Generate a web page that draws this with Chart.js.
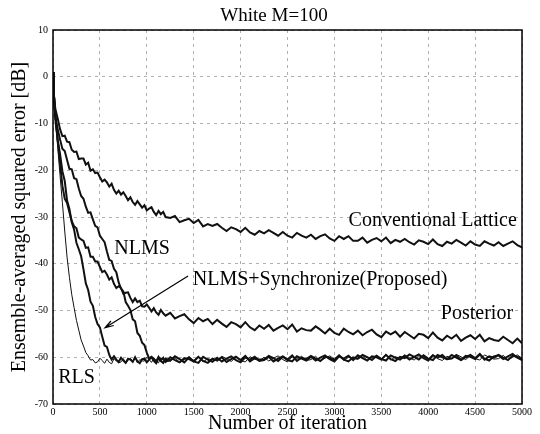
<!DOCTYPE html>
<html lang="en">
<head>
<meta charset="UTF-8">
<script src="https://cdn.jsdelivr.net/npm/chart.js"></script>
<title>White M=100</title>
<style>
  body { margin: 0; background: #fff; }
  #wrap { width: 540px; height: 434px; }
</style>
</head>
<body>
<div id="wrap"><canvas id="grafico"></canvas></div>
<script>
// iteration index (x), dense at the start where the curves fall fast
const iterations = [
  0, 10, 25, 50, 75, 100, 125, 150, 175, 200,
  225, 250, 275, 300, 325, 350, 375, 400, 425, 450,
  475, 500, 525, 550, 575, 600, 625, 650, 675, 700,
  725, 750, 775, 800, 825, 850, 875, 900, 925, 950,
  975, 1000, 1025, 1050, 1075, 1100, 1125, 1150, 1175, 1200,
  1250, 1300, 1350, 1400, 1450, 1500, 1550, 1600, 1650, 1700,
  1750, 1800, 1850, 1900, 1950, 2000, 2050, 2100, 2150, 2200,
  2250, 2300, 2350, 2400, 2450, 2500, 2550, 2600, 2650, 2700,
  2750, 2800, 2850, 2900, 2950, 3000, 3050, 3100, 3150, 3200,
  3250, 3300, 3350, 3400, 3450, 3500, 3550, 3600, 3650, 3700,
  3750, 3800, 3850, 3900, 3950, 4000, 4050, 4100, 4150, 4200,
  4250, 4300, 4350, 4400, 4450, 4500, 4550, 4600, 4650, 4700,
  4750, 4800, 4850, 4900, 4950, 5000
];

// ensemble-averaged squared error in dB
const conventional = [
  1, -4, -6.9, -8.9, -11.2, -12.7, -12.6, -13.9, -14.0, -15.6,
  -16.1, -16.0, -17.6, -17.5, -17.5, -18.8, -18.4, -20.1, -19.8, -20.6,
  -20.5, -21.5, -22.4, -22.0, -22.6, -23.5, -22.9, -24.2, -25.0, -24.4,
  -25.2, -24.7, -25.5, -26.4, -25.8, -26.8, -27.4, -26.6, -27.3, -28.0,
  -27.5, -28.6, -28.2, -27.9, -28.9, -29.6, -28.7, -29.4, -28.9, -30.0,
  -30.2, -29.8, -31.1, -30.7, -30.4, -31.3, -30.6, -32.0, -31.5, -31.9,
  -31.5, -32.3, -33.0, -32.2, -32.6, -33.2, -32.3, -33.3, -33.8, -33.0,
  -33.5, -32.8, -33.4, -34.0, -33.2, -34.0, -34.4, -33.4, -34.0, -34.4,
  -33.8, -34.7, -34.1, -33.7, -34.6, -35.1, -34.1, -34.7, -34.1, -35.1,
  -35.1, -34.4, -35.5, -34.9, -34.5, -35.2, -34.4, -35.6, -34.9, -35.3,
  -34.7, -35.4, -35.9, -35.0, -35.3, -35.8, -34.8, -35.8, -36.2, -35.3,
  -35.7, -34.9, -35.5, -36.1, -35.2, -35.9, -36.2, -35.2, -35.7, -36.1,
  -35.4, -36.2, -35.7, -35.2, -36.0, -36.5
];
const nlms = [
  1, -4, -8.6, -11.2, -13.4, -15.4, -15.9, -17.8, -19.7, -19.8,
  -21.7, -21.9, -23.9, -25.5, -26.1, -27.8, -29.1, -29.0, -30.5, -31.9,
  -32.2, -34.0, -34.7, -35.4, -37.4, -39.2, -39.4, -41.1, -41.8, -44.0,
  -45.3, -45.9, -48.2, -49.0, -49.9, -51.9, -52.3, -54.8, -55.4, -56.9,
  -57.4, -59.0, -60.3, -59.9, -60.3, -60.9, -59.9, -60.8, -61.2, -60.3,
  -60.7, -59.8, -60.4, -61.1, -60.0, -60.9, -61.2, -59.9, -60.5, -61.0,
  -60.1, -60.9, -60.3, -59.8, -60.6, -61.1, -60.0, -60.5, -59.9, -60.8,
  -60.6, -59.9, -60.9, -60.3, -59.8, -60.5, -59.6, -60.8, -60.1, -60.4,
  -59.7, -60.3, -60.8, -59.9, -60.1, -60.6, -59.6, -60.5, -60.9, -60.0,
  -60.3, -59.5, -60.0, -60.6, -59.7, -60.4, -60.7, -59.6, -60.1, -60.5,
  -59.7, -60.5, -59.9, -59.4, -60.2, -60.7, -59.6, -60.1, -59.5, -60.4,
  -60.3, -59.6, -60.6, -60.0, -59.5, -60.2, -59.3, -60.5, -59.8, -60.1,
  -59.5, -60.1, -60.6, -59.7, -59.9, -60.4
];
const posterior = [
  1, -4, -7.9, -13.5, -18.6, -23.3, -26.1, -27.0, -29.0, -30.9,
  -32.0, -32.4, -34.4, -34.8, -35.1, -36.6, -36.5, -38.5, -38.5, -39.5,
  -39.5, -40.7, -41.8, -41.5, -42.3, -43.4, -42.9, -44.3, -45.2, -44.8,
  -45.2, -46.4, -46.2, -46.1, -47.3, -48.2, -47.4, -48.2, -47.9, -49.1,
  -49.2, -48.7, -49.4, -50.2, -49.5, -50.4, -50.9, -49.9, -50.6, -51.1,
  -50.5, -51.7, -51.2, -50.8, -51.9, -52.7, -51.6, -52.3, -51.8, -52.9,
  -52.0, -52.8, -53.5, -52.5, -52.9, -53.6, -52.5, -53.6, -54.2, -53.2,
  -53.9, -53.1, -54.3, -53.7, -53.2, -54.0, -53.0, -54.5, -53.8, -54.2,
  -54.3, -53.4, -54.1, -54.9, -53.9, -54.8, -55.2, -53.9, -54.6, -55.1,
  -54.3, -55.3, -54.6, -54.1, -55.1, -55.7, -54.5, -55.1, -54.5, -55.6,
  -54.6, -55.3, -56.0, -55.0, -55.2, -55.9, -54.7, -55.8, -56.4, -55.4,
  -56.0, -55.2, -56.5, -55.8, -55.3, -56.1, -55.2, -56.6, -55.9, -56.3,
  -56.5, -55.6, -56.3, -57.0, -56.0, -57.0
];
const proposed = [
  1, -4, -9.1, -13.5, -16.5, -20.2, -22.3, -26.5, -28.3, -31.1,
  -32.7, -35.5, -36.9, -38.4, -41.2, -44.2, -45.6, -48.1, -49.0, -51.4,
  -52.9, -53.6, -55.6, -57.5, -57.8, -59.5, -60.5, -59.8, -60.5, -61.0,
  -60.1, -60.7, -61.2, -60.3, -60.5, -61.0, -60.0, -60.9, -61.3, -60.4,
  -60.3, -61.1, -60.5, -60.0, -60.8, -61.3, -60.2, -60.7, -60.1, -61.0,
  -60.0, -60.6, -61.1, -60.2, -60.4, -60.9, -59.9, -60.8, -61.2, -60.3,
  -60.7, -60.0, -61.0, -60.4, -59.9, -60.6, -59.7, -60.9, -60.2, -60.5,
  -60.5, -59.7, -60.2, -60.8, -59.9, -60.6, -60.9, -59.8, -60.3, -60.7,
  -59.9, -60.7, -60.1, -59.6, -60.4, -60.9, -59.8, -60.3, -59.7, -60.6,
  -59.6, -60.2, -60.7, -59.8, -60.0, -60.5, -59.5, -60.4, -60.8, -59.9,
  -60.2, -59.4, -59.9, -60.5, -59.6, -60.3, -60.6, -59.5, -60.0, -60.4,
  -59.5, -60.1, -60.6, -59.7, -59.9, -60.4, -59.4, -60.3, -60.7, -59.8,
  -59.6, -60.4, -59.8, -59.3, -60.1, -60.6
];
const rls = [
  1, -5.0, -9.1, -15.0, -21.1, -26.9, -33.0, -38.6, -42.9, -46.6,
  -49.4, -52.1, -54.2, -56.3, -57.6, -59.0, -59.7, -60.6, -60.5, -61.2,
  -61.0, -60.2, -60.7, -61.3, -60.4, -61.1, -61.4, -60.3, -60.8, -61.2,
  -61.0, -60.3, -61.3, -60.7, -60.2, -60.9, -60.0, -61.2, -60.5, -60.8,
  -60.8, -60.0, -60.5, -61.1, -60.2, -60.9, -61.2, -60.1, -60.6, -61.0,
  -60.8, -60.1, -61.1, -60.5, -60.0, -60.7, -59.8, -61.0, -60.3, -60.6,
  -60.6, -59.8, -60.3, -60.9, -60.0, -60.7, -61.0, -59.9, -60.4, -60.8,
  -60.0, -60.8, -60.2, -59.7, -60.5, -61.0, -59.9, -60.4, -59.8, -60.7,
  -60.5, -59.8, -60.8, -60.2, -59.7, -60.4, -59.5, -60.7, -60.0, -60.3,
  -60.4, -59.7, -60.7, -60.1, -59.6, -60.3, -59.4, -60.6, -59.9, -60.2,
  -59.5, -60.1, -60.6, -59.7, -59.9, -60.4, -59.4, -60.3, -60.7, -59.8,
  -60.2, -59.4, -59.9, -60.5, -59.6, -60.3, -60.6, -59.5, -60.0, -60.4,
  -60.3, -59.6, -60.6, -60.0, -59.5, -60.2
];

const xTicks = [0, 500, 1000, 1500, 2000, 2500, 3000, 3500, 4000, 4500, 5000];
const yTicks = [10, 0, -10, -20, -30, -40, -50, -60, -70];

const serif = '"Liberation Serif", "DejaVu Serif", serif';

// curve names written inside the plot, placed in data units
const notesText = [
  { text: 'Conventional Lattice', x: 4945, y: -30.8, align: 'right' },
  { text: 'NLMS', x: 950, y: -36.7, align: 'center' },
  { text: 'NLMS+Synchronize(Proposed)', x: 1490, y: -43.4, align: 'left' },
  { text: 'Posterior', x: 4905, y: -50.6, align: 'right' },
  { text: 'RLS', x: 55, y: -64.4, align: 'left' }
];
const arrowFrom = { x: 1440, y: -42.6 };
const arrowTo = { x: 555, y: -53.7 };

const pts = vals => iterations.map((it, i) => ({ x: it, y: vals[i] }));

const notes = {
  id: 'notes',
  afterDatasetsDraw(chart) {
    const { ctx, chartArea: a, scales: { x, y } } = chart;
    ctx.save();
    ctx.strokeStyle = '#000';
    ctx.lineWidth = 1.5;
    ctx.strokeRect(a.left, a.top, a.right - a.left, a.bottom - a.top);

    ctx.fillStyle = '#000';
    ctx.textBaseline = 'middle';
    ctx.textAlign = 'center';
    ctx.font = '19px ' + serif;
    ctx.fillText('White M=100', 274, 16);

    ctx.font = '20px ' + serif;
    notesText.forEach(n => {
      ctx.textAlign = n.align;
      ctx.fillText(n.text, x.getPixelForValue(n.x), y.getPixelForValue(n.y));
    });

    // arrow towards the proposed curve
    const x1 = x.getPixelForValue(arrowFrom.x), y1 = y.getPixelForValue(arrowFrom.y);
    const x2 = x.getPixelForValue(arrowTo.x), y2 = y.getPixelForValue(arrowTo.y);
    const ang = Math.atan2(y2 - y1, x2 - x1);
    ctx.lineWidth = 1.2;
    ctx.beginPath();
    ctx.moveTo(x1, y1);
    ctx.lineTo(x2, y2);
    ctx.moveTo(x2 - 9 * Math.cos(ang - 0.3), y2 - 9 * Math.sin(ang - 0.3));
    ctx.lineTo(x2, y2);
    ctx.lineTo(x2 - 9 * Math.cos(ang + 0.3), y2 - 9 * Math.sin(ang + 0.3));
    ctx.stroke();
    ctx.restore();
  }
};

const linha = (label, vals, w) => ({
  label: label,
  data: pts(vals),
  borderColor: '#111',
  borderWidth: w,
  pointRadius: 0,
  tension: 0,
  fill: false
});

new Chart(document.getElementById('grafico'), {
  type: 'line',
  data: {
    datasets: [
      linha('Conventional Lattice', conventional, 2),
      linha('Posterior', posterior, 2),
      linha('NLMS', nlms, 2),
      linha('NLMS+Synchronize(Proposed)', proposed, 2),
      linha('RLS', rls, 1)
    ]
  },
  options: {
    responsive: true,
    maintainAspectRatio: false,
    animation: false,
    layout: { padding: { top: 30, right: 18, bottom: 0, left: 0 } },
    plugins: {
      legend: { display: false },
      tooltip: { enabled: false },
      title: { display: false }
    },
    scales: {
      x: {
        type: 'linear',
        min: 0,
        max: 5000,
        afterBuildTicks: s => { s.ticks = xTicks.map(v => ({ value: v })); },
        afterFit: s => { s.height = 30; },
        grid: { color: '#9a9a9a', lineWidth: 0.8, drawTicks: false },
        border: { display: false, dash: [3, 4] },
        ticks: {
          padding: 2, color: '#000', maxRotation: 0, autoSkip: false,
          font: { family: serif, size: 10 },
          callback: v => String(v)
        },
        title: {
          display: true,
          text: 'Number of iteration',
          color: '#000',
          font: { family: serif, size: 20, lineHeight: 1 },
          padding: { top: 0, bottom: 0 }
        }
      },
      y: {
        min: -70,
        max: 10,
        afterBuildTicks: s => { s.ticks = yTicks.map(v => ({ value: v })); },
        afterFit: s => { s.width = 53; },
        grid: { color: '#9a9a9a', lineWidth: 0.8, drawTicks: false },
        border: { display: false, dash: [3, 4] },
        ticks: { padding: 5, color: '#000', font: { family: serif, size: 10 }, callback: v => String(v) },
        title: {
          display: true,
          text: 'Ensemble-averaged squared error [dB]',
          color: '#000',
          font: { family: serif, size: 20, lineHeight: 1 },
          padding: { top: 10, bottom: 0 }
        }
      }
    }
  },
  plugins: [notes]
});
</script>
</body>
</html>
